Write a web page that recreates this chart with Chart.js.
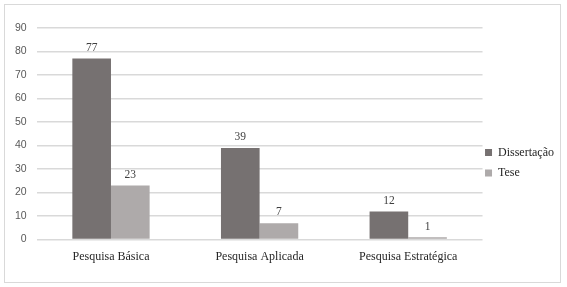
<!DOCTYPE html>
<html>
<head>
<meta charset="utf-8">
<script src="https://cdn.jsdelivr.net/npm/chart.js@4.4.1/dist/chart.umd.min.js"></script>
<style>
  html, body { margin: 0; padding: 0; background: #fff; }
  #frame {
    position: absolute; left: 4px; top: 4px;
    width: 555px; height: 277px;
    border: 1px solid #d9d9d9;
  }
  #chart { display: block; position: absolute; left: 0; top: 0; }
</style>
</head>
<body>
<div id="frame"><canvas id="chart" width="558" height="277"></canvas></div>
<script>
// chart data
var categories = ["Pesquisa Básica", "Pesquisa Aplicada", "Pesquisa Estratégica"];
var seriesNames = ["Dissertação", "Tese"];
var dissertacao = [77, 39, 12];
var tese = [23, 7, 1];
var yTicksMax = 90;
var yTicksStep = 10;

var serif = "'Liberation Serif', 'DejaVu Serif', serif";

// draws the value above each bar
var valueLabels = {
    id: "valueLabels",
    afterDatasetsDraw: function (chart) {
        var ctx = chart.ctx;
        ctx.save();
        ctx.font = "11.5px " + serif;
        ctx.fillStyle = "#404040";
        ctx.textAlign = "center";
        ctx.textBaseline = "bottom";
        chart.data.datasets.forEach(function (ds, i) {
            chart.getDatasetMeta(i).data.forEach(function (bar, j) {
                ctx.fillText(String(ds.data[j]), bar.x, bar.y - 5);
            });
        });
        ctx.restore();
    }
};

// pulls the legend a bit closer to the plot, like the original
var legendNudge = {
    id: "legendNudge",
    afterLayout: function (chart) {
        if (!chart.legend) return;
        chart.legend.left -= 6;
        chart.legend.right -= 6;
    }
};

new Chart(document.getElementById("chart"), {
    type: "bar",
    data: {
        labels: categories,
        datasets: [
            { label: seriesNames[0], data: dissertacao, backgroundColor: "#767171" },
            { label: seriesNames[1], data: tese, backgroundColor: "#aeaaaa" }
        ]
    },
    options: {
        responsive: false,
        animation: false,
        layout: { padding: { left: 0, right: -7, top: 23, bottom: 16 } },
        datasets: { bar: { categoryPercentage: 0.52, barPercentage: 1 } },
        scales: {
            x: {
                grid: { display: false },
                border: { display: false },
                ticks: { color: "#262626", font: { family: serif, size: 12 }, padding: 2, maxRotation: 0 }
            },
            y: {
                min: 0,
                max: yTicksMax,
                ticks: { stepSize: yTicksStep, color: "#595959", font: { family: "'Liberation Sans', sans-serif", size: 10.5 }, padding: 10 },
                grid: { color: "#d9d9d9", lineWidth: 1.5, drawTicks: false },
                border: { display: false }
            }
        },
        plugins: {
            legend: {
                position: "right",
                align: "center",
                title: { display: true, text: " ", padding: { top: 17, bottom: 0 } },
                labels: {
                    boxWidth: 7,
                    boxHeight: 7,
                    padding: 8.5,
                    color: "#262626",
                    font: { family: serif, size: 12 }
                }
            },
            tooltip: { enabled: false }
        }
    },
    plugins: [valueLabels, legendNudge]
});
</script>
</body>
</html>
